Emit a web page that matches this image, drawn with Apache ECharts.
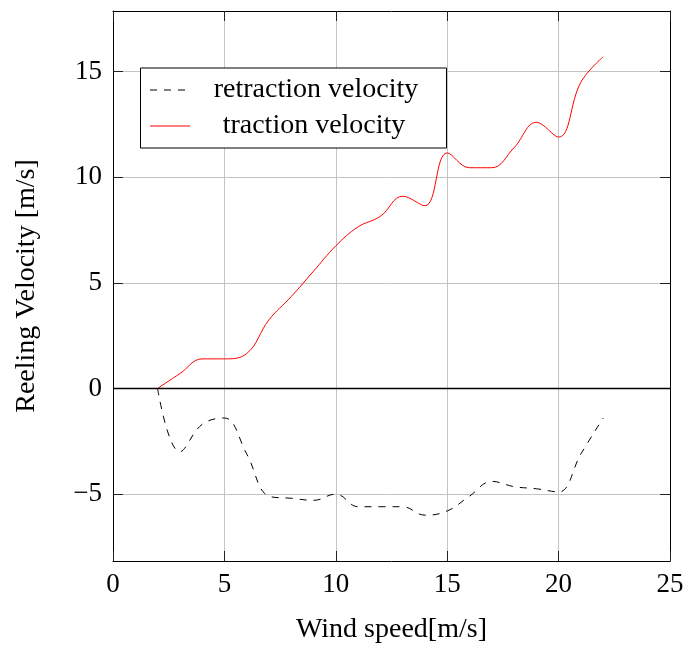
<!DOCTYPE html>
<html>
<head>
<meta charset="utf-8">
<script src="https://cdn.jsdelivr.net/npm/echarts@6/dist/echarts.min.js"></script>
<style>
html,body{margin:0;padding:0;background:#fff;}
#chart{width:688px;height:649px;}
</style>
</head>
<body>
<div id="chart"></div>
<script>
// Wind speed [m/s]
const windSpeed = [2,3,4,5,6,7,8,9,10,11,12,13,14,15,16,17,18,19,20,21,22];
// Reeling velocities [m/s]
const tractionVelocity   = [0,0.7,1.4,1.4,1.65,3.25,4.35,5.55,6.75,7.65,8.15,9.1,8.65,11.15,10.45,10.45,11.4,12.6,11.9,14.5,15.7];
const retractionVelocity = [0,-3.0,-1.7,-1.4,-3.1,-5.1,-5.2,-5.3,-5.0,-5.6,-5.6,-5.6,-6.0,-5.8,-5.1,-4.4,-4.65,-4.75,-4.9,-3.1,-1.4];
const xTicks = [0,5,10,15,20,25];
const yTicks = [-5,0,5,10,15];
const seriesNames = ['retraction velocity','traction velocity'];
const xTitle = 'Wind speed[m/s]';
const yTitle = 'Reeling Velocity [m/s]';

const FONT = 'Liberation Serif';
const yMin = -8.17, yMax = 17.87;

const chart = echarts.init(document.getElementById('chart'), null, {renderer:'canvas'});

function pairs(xs, ys){ return xs.map((x,i)=>[x, ys[i]]); }
const fmt = v => String(v).replace('-', '\u2212');

const axisLineStyle = {show:true, onZero:false, lineStyle:{color:'#000', width:1}};
const tickStyle = {show:true, inside:true, length:10, lineStyle:{color:'#222', width:1}};
const yTickStyle = Object.assign({}, tickStyle, {customValues: yTicks});
const splitStyle = {show:true, lineStyle:{color:'#c4c4c4', width:1}};

const option = {
  animation:false,
  backgroundColor:'#fff',
  grid:{left:113, top:11, right:18, bottom:82, containLabel:false},
  xAxis:[
    {type:'value', min:xTicks[0], max:xTicks[xTicks.length-1], interval:5, position:'bottom',
     axisLine:axisLineStyle, axisTick:tickStyle, splitLine:splitStyle,
     axisLabel:{color:'#000', fontFamily:FONT, fontSize:27, margin:10, formatter:fmt},
     name:xTitle, nameLocation:'middle', nameGap:55,
     nameTextStyle:{color:'#000', fontFamily:FONT, fontSize:28}},
    {type:'value', min:xTicks[0], max:xTicks[xTicks.length-1], interval:5, position:'top',
     axisLine:axisLineStyle, axisTick:tickStyle, splitLine:{show:false}, axisLabel:{show:false}}
  ],
  yAxis:[
    {type:'value', min:yMin, max:yMax, position:'left',
     axisLine:axisLineStyle, axisTick:yTickStyle, splitLine:Object.assign({}, splitStyle),
     axisLabel:{color:'#000', fontFamily:FONT, fontSize:27, margin:11, customValues:yTicks, formatter:fmt},
     name:yTitle, nameLocation:'middle', nameGap:72, nameRotate:90,
     nameTextStyle:{color:'#000', fontFamily:FONT, fontSize:28}},
    {type:'value', min:yMin, max:yMax, position:'right',
     axisLine:axisLineStyle, axisTick:yTickStyle,
     splitLine:{show:false}, axisLabel:{show:false}}
  ],
  series:[
    {name:seriesNames[0], type:'line', data:pairs(windSpeed, retractionVelocity),
     smooth:0.4, symbol:'none', lineStyle:{color:'#000', width:1, type:[7,7]},
     markLine:{silent:true, symbol:'none', label:{show:false},
       lineStyle:{color:'#000', width:1.3, type:'solid'}, data:[{yAxis:0}]}, z:3},
    {name:seriesNames[1], type:'line', data:pairs(windSpeed, tractionVelocity),
     smooth:0.4, symbol:'none', lineStyle:{color:'#ff0000', width:1}, z:4}
  ],
  graphic:[
    {type:'rect', shape:{x:140.5, y:68, width:306, height:80},
     style:{fill:'#fff', stroke:'#000', lineWidth:1}, z:100},
    {type:'line', shape:{x1:150, y1:90, x2:190, y2:90},
     style:{stroke:'#000', lineWidth:1, lineDash:[7,7]}, z:101},
    {type:'text', x:316, y:90, style:{text:seriesNames[0], fill:'#000', font:'28px "'+FONT+'"', textAlign:'center', textVerticalAlign:'middle'}, z:101},
    {type:'line', shape:{x1:150, y1:126, x2:190, y2:126},
     style:{stroke:'#ff0000', lineWidth:1}, z:101},
    {type:'text', x:314, y:126, style:{text:seriesNames[1], fill:'#000', font:'28px "'+FONT+'"', textAlign:'center', textVerticalAlign:'middle'}, z:101}
  ]
};
chart.setOption(option);
</script>
</body>
</html>
